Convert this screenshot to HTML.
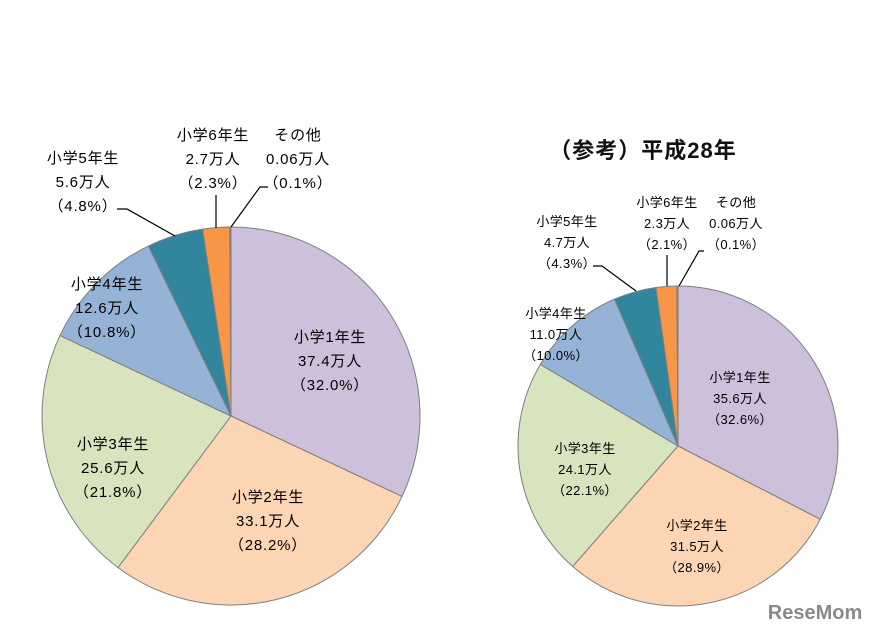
<!DOCTYPE html>
<html><head><meta charset="utf-8"><style>
html,body{margin:0;padding:0;background:#fff;}
svg{display:block;font-family:"Liberation Sans","Noto Sans CJK JP",sans-serif;}
</style></head><body>
<svg id="s" width="877" height="634" viewBox="0 0 877 634" xmlns="http://www.w3.org/2000/svg">
<g id="p1"></g><g id="p2"></g>
<g fill="#000" text-anchor="middle" font-size="15" letter-spacing="0.8">
<text x="330" y="342">小学1年生</text><text x="330" y="366">37.4万人</text><text x="330" y="390">（32.0%）</text>
<text x="268" y="502">小学2年生</text><text x="268" y="526">33.1万人</text><text x="268" y="550">（28.2%）</text>
<text x="113" y="449">小学3年生</text><text x="113" y="473">25.6万人</text><text x="113" y="497">（21.8%）</text>
<text x="107" y="289">小学4年生</text><text x="107" y="313">12.6万人</text><text x="107" y="337">（10.8%）</text>
<text x="83" y="163">小学5年生</text><text x="83" y="187">5.6万人</text><text x="83" y="211">（4.8%）</text>
<text x="213" y="140">小学6年生</text><text x="213" y="164">2.7万人</text><text x="213" y="188">（2.3%）</text>
<text x="298" y="140">その他</text><text x="298" y="164">0.06万人</text><text x="298" y="188">（0.1%）</text>
</g>
<g fill="#000" text-anchor="middle" font-size="13" letter-spacing="0.4">
<text x="740" y="382">小学1年生</text><text x="740" y="403">35.6万人</text><text x="740" y="424">（32.6%）</text>
<text x="697" y="530">小学2年生</text><text x="697" y="551">31.5万人</text><text x="697" y="572">（28.9%）</text>
<text x="585" y="453">小学3年生</text><text x="585" y="474">24.1万人</text><text x="585" y="495">（22.1%）</text>
<text x="556" y="318">小学4年生</text><text x="556" y="339">11.0万人</text><text x="556" y="360">（10.0%）</text>
<text x="567" y="226">小学5年生</text><text x="567" y="247">4.7万人</text><text x="567" y="268">（4.3%）</text>
<text x="667" y="207">小学6年生</text><text x="667" y="228">2.3万人</text><text x="667" y="249">（2.1%）</text>
<text x="736" y="207">その他</text><text x="736" y="228">0.06万人</text><text x="736" y="249">（0.1%）</text>
</g>
<text x="643" y="158" text-anchor="middle" font-size="22" font-weight="bold" fill="#111" letter-spacing="1">（参考）平成28年</text>
<g stroke="#000" stroke-width="1.2" fill="none">
<polyline points="117,209 127,209 175,236"/>
<polyline points="216,195 216,228"/>
<polyline points="268,187 260,187 231,227"/>
<polyline points="593,266 602,266 636,291"/>
<polyline points="667,255 667,286"/>
<polyline points="704,251 699,251 679,286"/>
</g>
<text x="815" y="619" text-anchor="middle" font-size="20" font-weight="bold" fill="#8a8a8a">ReseMom</text>
</svg>
<script>
var cols=["#CCC0DA","#FCD5B5","#D7E4BD","#95B3D7","#31859C","#F79646","#A6A6A6"];
function pie(id,cx,cy,r,vals){
 var g=document.getElementById(id),sum=vals.reduce(function(a,b){return a+b},0),a=0,h="";
 vals.forEach(function(v,i){
  var a0=a/sum*2*Math.PI;a+=v;var a1=a/sum*2*Math.PI;
  var x0=cx+r*Math.sin(a0),y0=cy-r*Math.cos(a0),x1=cx+r*Math.sin(a1),y1=cy-r*Math.cos(a1);
  var lg=(a1-a0)>Math.PI?1:0;
  h+='<path d="M'+cx+','+cy+' L'+x0+','+y0+' A'+r+','+r+' 0 '+lg+' 1 '+x1+','+y1+' Z" fill="'+cols[i]+'" stroke="#7f7f7f" stroke-width="1"/>';
 });
 g.innerHTML=h;
}
pie("p1",231,416,189,[32.0,28.2,21.8,10.8,4.8,2.3,0.1]);
pie("p2",678,446,160,[32.6,28.9,22.1,10.0,4.3,2.1,0.1]);
</script>
</body></html>
